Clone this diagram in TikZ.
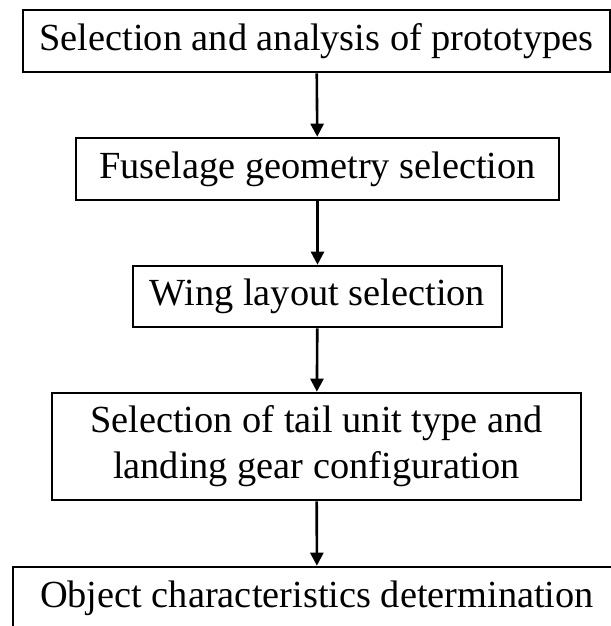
\documentclass[tikz,border=0pt]{standalone}
\usepackage{fontspec}
\setmainfont{Liberation Serif}
\usetikzlibrary{arrows.meta}
\begin{document}
\begin{tikzpicture}[x=1bp,y=-1bp,
  stepbox/.style={draw=black, line width=2.6bp, inner sep=0pt, align=center,
    font=\fontsize{38.5}{46}\selectfont},
  flow/.style={line width=2.6bp, -{Triangle[length=13bp,width=13bp]}}]
\useasboundingbox (0,0) rectangle (611,626);
\node[stepbox, minimum width=587bp, minimum height=62bp] (b1) at (316.5,41) {Selection and analysis of prototypes};
\node[stepbox, minimum width=483bp, minimum height=62bp] (b2) at (317.5,169) {Fuselage geometry selection};
\node[stepbox, minimum width=369bp, minimum height=61bp] (b3) at (317.5,296.5) {Wing layout selection};
\node[stepbox, minimum width=529bp, minimum height=107bp] (b4) at (316.5,446.5) {Selection of tail unit type and\\landing gear configuration};
\node[stepbox, minimum width=608bp, minimum height=62bp] (b5) at (317,598) {Object characteristics determination};
\draw[flow] (b1) -- (b2);
\draw[flow] (b2) -- (b3);
\draw[flow] (b3) -- (b4);
\draw[flow] (b4) -- (b5);
\end{tikzpicture}
\end{document}
